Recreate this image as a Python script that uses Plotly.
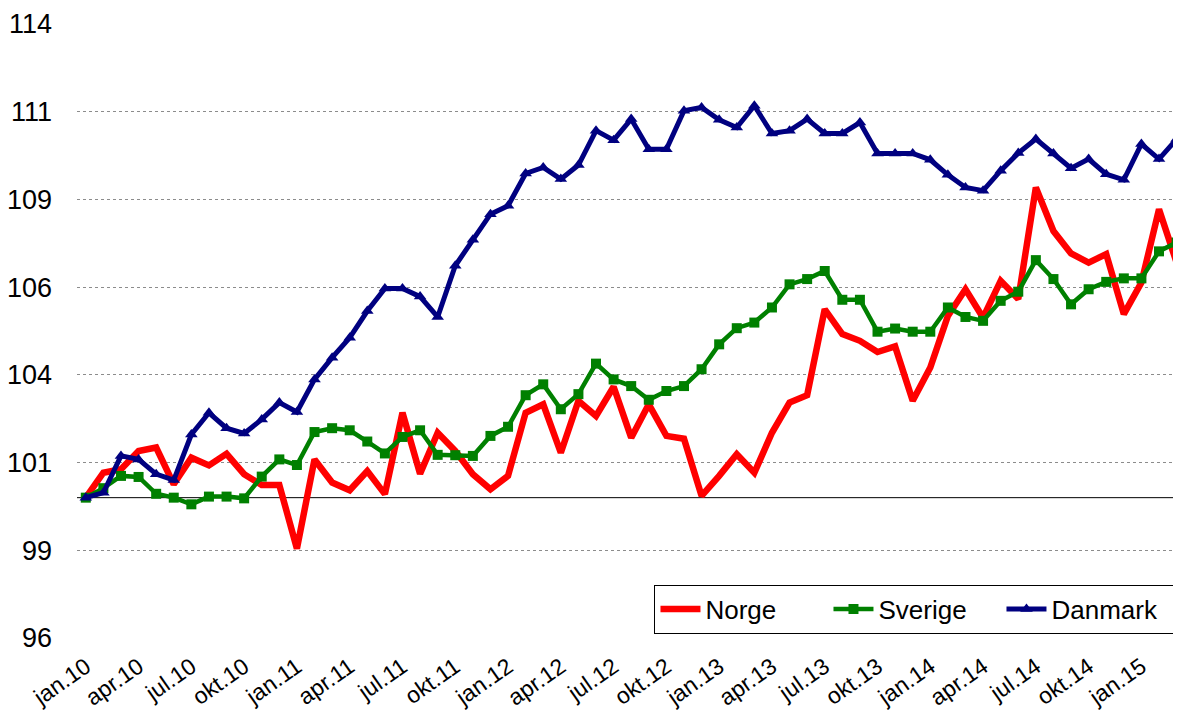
import plotly.graph_objects as go

month_names = ["jan", "feb", "mar", "apr", "mai", "jun", "jul", "aug", "sep", "okt", "nov", "des"]
years = ["10", "11", "12", "13", "14", "15"]
months = [f"{m}.{y}" for y in years for m in month_names][:63]  # jan.10 .. mar.15

norge = [100.0, 100.71, 100.81, 101.33, 101.43, 100.38, 101.14, 100.92, 101.25, 100.67,
         100.36, 100.36, 98.55, 101.09, 100.43, 100.21, 100.76, 100.1, 102.42, 100.68,
         101.85, 101.33, 100.67, 100.24, 100.62, 102.42, 102.66, 101.28, 102.76, 102.33,
         103.16, 101.71, 102.66, 101.76, 101.68, 100.05, 100.62, 101.24, 100.71, 101.85,
         102.71, 102.92, 105.37, 104.66, 104.47, 104.15, 104.31, 102.76, 103.71, 105.18,
         105.94, 105.13, 106.18, 105.66, 108.84, 107.6, 106.96, 106.7, 106.94, 105.23,
         106.13, 108.22, 106.7]

sverige = [100.0, 100.27, 100.62, 100.59, 100.11, 100.0, 99.81, 100.03, 100.03, 99.98,
           100.6, 101.09, 100.93, 101.87, 101.98, 101.92, 101.6, 101.26, 101.73, 101.92,
           101.22, 101.21, 101.19, 101.76, 102.02, 102.92, 103.23, 102.52, 102.95, 103.82,
           103.37, 103.18, 102.79, 103.04, 103.18, 103.66, 104.37, 104.83, 104.99, 105.42,
           106.08, 106.23, 106.46, 105.64, 105.64, 104.73, 104.82, 104.73, 104.73, 105.42,
           105.15, 105.04, 105.61, 105.87, 106.77, 106.23, 105.51, 105.94, 106.15, 106.25,
           106.25, 107.02, 107.27]

danmark = [100.0, 100.14, 101.19, 101.09, 100.67, 100.5, 101.8, 102.42, 101.98, 101.83,
           102.23, 102.71, 102.44, 103.37, 103.99, 104.56, 105.32, 105.96, 105.96, 105.73,
           105.15, 106.61, 107.35, 108.08, 108.32, 109.24, 109.41, 109.08, 109.48, 110.46,
           110.19, 110.79, 109.93, 109.93, 111.03, 111.12, 110.77, 110.55, 111.17, 110.38,
           110.46, 110.79, 110.38, 110.38, 110.69, 109.81, 109.81, 109.81, 109.63, 109.2,
           108.84, 108.75, 109.32, 109.82, 110.22, 109.81, 109.39, 109.65, 109.22, 109.06,
           110.08, 109.65, 110.22]

y_tick_values = [96, 98.5, 101, 103.5, 106, 108.5, 111, 113.5]
y_tick_labels = ["96", "99", "101", "104", "106", "109", "111", "114"]
x_tick_labels = months[::3]

FONT = "Liberation Sans, Arial, sans-serif"

fig = go.Figure()
fig.add_trace(go.Scatter(x=months, y=norge, name="Norge", mode="lines",
                         line=dict(color="#FF0000", width=6.5)))
fig.add_trace(go.Scatter(x=months, y=sverige, name="Sverige", mode="lines+markers",
                         line=dict(color="#008000", width=4.5),
                         marker=dict(symbol="square", size=10, color="#008000")))
fig.add_trace(go.Scatter(x=months, y=danmark, name="Danmark", mode="lines+markers",
                         line=dict(color="#000080", width=5),
                         marker=dict(symbol="triangle-up", size=11, color="#000080")))

fig.add_shape(type="line", xref="paper", yref="y", x0=0, x1=1, y0=100, y1=100,
              line=dict(color="black", width=1), layer="below")

# page body has an 8px default margin, so the figure is sized/offset to compensate
fig.update_layout(
    width=1173, height=703,
    margin=dict(l=69, r=0, t=16, b=73),
    paper_bgcolor="white", plot_bgcolor="white",
    font=dict(family=FONT, size=25, color="black"),
    showlegend=True,
    legend=dict(orientation="h", xanchor="right", yanchor="bottom", x=0.995, y=0.007,
                bordercolor="black", borderwidth=1, bgcolor="white",
                font=dict(size=26), traceorder="normal", entrywidth=118,
                itemwidth=40),
    xaxis=dict(type="category", range=[-0.5, 62.25], tickmode="array",
               tickvals=x_tick_labels, ticktext=x_tick_labels, tickangle=-35,
               tickfont=dict(size=23), showgrid=False, zeroline=False, showline=False,
               ticks="", automargin=False, ticklabelstandoff=10),
    yaxis=dict(range=[96, 113.5], tickmode="array", tickvals=y_tick_values,
               ticktext=y_tick_labels, showgrid=True, gridcolor="#8c8c8c",
               griddash="dot", gridwidth=1, zeroline=False, showline=False,
               ticks="", ticklabelstandoff=24, tickfont=dict(size=27), automargin=False),
)

fig.write_html("out.html")
